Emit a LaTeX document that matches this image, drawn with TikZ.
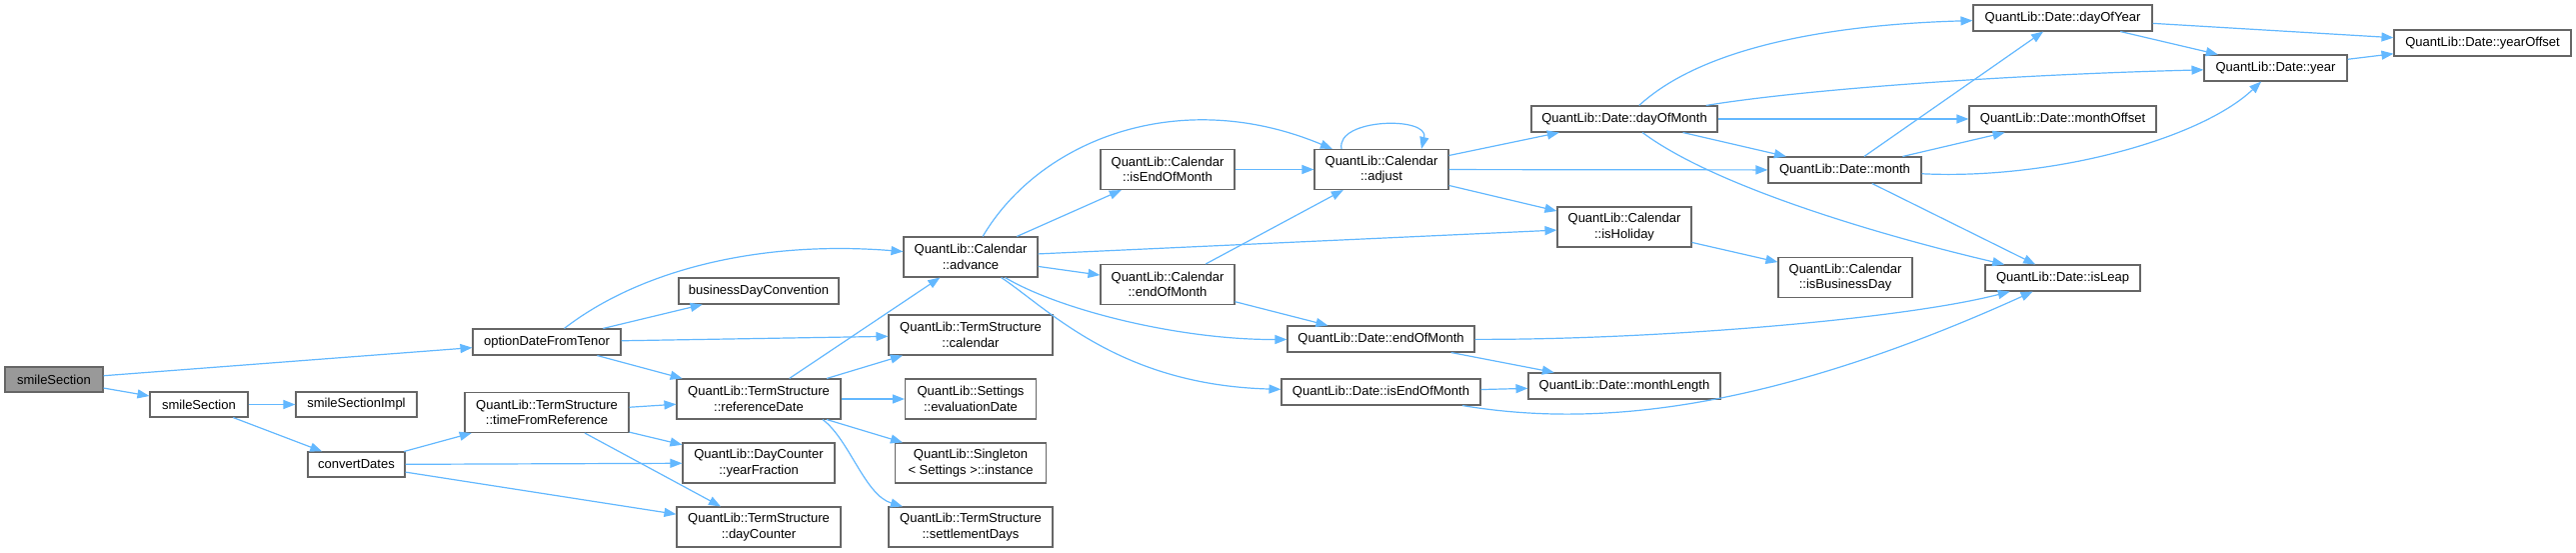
\documentclass[tikz,border=0pt]{standalone}
\usepackage{fontspec}
\setmainfont{Liberation Sans}
\usetikzlibrary{arrows.meta}
\definecolor{edgeblue}{HTML}{63B8FF}
\definecolor{boxline}{HTML}{666666}
\definecolor{rootfill}{HTML}{999999}
\begin{document}
\begin{tikzpicture}[x=1pt,y=-1pt,
  nd/.style={draw=boxline, fill=white, line width=1.1pt, inner sep=1pt, align=center,
     font=\fontsize{13}{15.5}\selectfont},
  one/.style={nd, minimum height=26},
  two/.style={nd, minimum height=40},
  e/.style={draw=edgeblue, line width=1.2pt, -{Triangle[length=12pt,width=9pt]}}]
\useasboundingbox (0,0) rectangle (2577,553);
% nodes
\node[one, fill=rootfill, minimum width=98, minimum height=25] (ss0) at (54,379.5) {smileSection};
\node[one, minimum width=98, minimum height=25] (ss1) at (199,404.5) {smileSection};
\node[one, minimum width=121, minimum height=25] (impl) at (356.5,404.5) {smileSectionImpl};
\node[one, minimum width=97, minimum height=25] (conv) at (356.5,464.5) {convertDates};
\node[one, minimum width=148] (odft) at (547,342) {optionDateFromTenor};
\node[two, minimum width=164] (tfr) at (547,412.5) {QuantLib::TermStructure\\::timeFromReference};
\node[two, minimum width=134] (adv) at (971,257) {QuantLib::Calendar\\::advance};
\node[one, minimum width=160] (bdc) at (759,291) {businessDayConvention};
\node[two, minimum width=164] (tscal) at (971,335) {QuantLib::TermStructure\\::calendar};
\node[two, minimum width=164] (refd) at (759,399) {QuantLib::TermStructure\\::referenceDate};
\node[two, minimum width=131] (evald) at (971,399) {QuantLib::Settings\\::evaluationDate};
\node[two, minimum width=152] (yf) at (759,463) {QuantLib::DayCounter\\::yearFraction};
\node[two, minimum width=151] (single) at (971,463) {QuantLib::Singleton\\< Settings >::instance};
\node[two, minimum width=164] (dcount) at (759,527) {QuantLib::TermStructure\\::dayCounter};
\node[two, minimum width=164] (settle) at (971,527) {QuantLib::TermStructure\\::settlementDays};
\node[two, minimum width=134] (ieom) at (1168,169.5) {QuantLib::Calendar\\::isEndOfMonth};
\node[two, minimum width=134] (adjust) at (1382,169.5) {QuantLib::Calendar\\::adjust};
\node[two, minimum width=134] (ceom) at (1168,284.5) {QuantLib::Calendar\\::endOfMonth};
\node[one, minimum width=186] (dom) at (1625,119) {QuantLib::Date::dayOfMonth};
\node[one, minimum width=187] (dendm) at (1381.5,339) {QuantLib::Date::endOfMonth};
\node[one, minimum width=199] (dieom) at (1381.5,392) {QuantLib::Date::isEndOfMonth};
\node[two, minimum width=134] (hol) at (1625,227) {QuantLib::Calendar\\::isHoliday};
\node[one, minimum width=179] (doy) at (2063.5,18) {QuantLib::Date::dayOfYear};
\node[one, minimum width=177] (yoff) at (2483.5,43) {QuantLib::Date::yearOffset};
\node[one, minimum width=143] (year) at (2276.5,68) {QuantLib::Date::year};
\node[one, minimum width=187] (moff) at (2063.5,119) {QuantLib::Date::monthOffset};
\node[one, minimum width=153] (month) at (1845.5,170) {QuantLib::Date::month};
\node[two, minimum width=134] (isbd) at (1846,277.5) {QuantLib::Calendar\\::isBusinessDay};
\node[one, minimum width=155] (leap) at (2063.5,278) {QuantLib::Date::isLeap};
\node[one, minimum width=192] (mlen) at (1625,386) {QuantLib::Date::monthLength};
% edges
\draw[e] (ss0) -- (odft);
\draw[e] (ss0) -- (ss1);
\draw[e] (ss1) -- (impl);
\draw[e] (ss1) -- (conv);
\draw[e] (conv) -- (tfr);
\draw[e] (conv) -- (yf);
\draw[e] (conv) -- (dcount);
\draw[e] (tfr) -- (refd);
\draw[e] (tfr) -- (yf);
\draw[e] (tfr) -- (dcount);
\draw[e] (odft) .. controls (640,270) and (760,240) .. (adv);
\draw[e] (odft) -- (bdc);
\draw[e] (odft) -- (tscal);
\draw[e] (odft) -- (refd);
\draw[e] (refd) -- (adv);
\draw[e] (refd) -- (tscal);
\draw[e] (refd) -- (evald);
\draw[e] (refd) -- (single);
\draw[e] ([xshift=64]refd.south) .. controls (850,440) and (865,495) .. (settle);
\draw[e] (adv) .. controls (1040,140) and (1180,85) .. (adjust);
\draw[e] (adv) -- (ieom);
\draw[e] (adv) -- (hol);
\draw[e] (adv) -- (ceom);
\draw[e] (adv) .. controls (1060,310) and (1180,340) .. (dendm);
\draw[e] (adv) .. controls (1050,310) and (1120,385) .. (dieom);
\draw[e] (ieom) -- (adjust);
\draw[e] ([xshift=-40]adjust.north) .. controls (1336,118) and (1430,116) .. ([xshift=40]adjust.north);
\draw[e] (adjust) -- (dom);
\draw[e] (adjust) -- (month);
\draw[e] (adjust) -- (hol);
\draw[e] (ceom) -- (adjust);
\draw[e] (ceom) -- (dendm);
\draw[e] (dendm) .. controls (1650,340) and (1900,320) .. (leap);
\draw[e] (dendm) -- (mlen);
\draw[e] (dieom) -- (mlen);
\draw[e] (dieom) .. controls (1580,425) and (1750,420) .. (leap);
\draw[e] (hol) -- (isbd);
\draw[e] (dom) .. controls (1700,50) and (1820,25) .. (doy);
\draw[e] (dom) .. controls (1800,90) and (2000,75) .. (year);
\draw[e] (dom) -- (moff);
\draw[e] (dom) -- (month);
\draw[e] (dom) .. controls (1720,190) and (1900,240) .. (leap);
\draw[e] (month) -- (doy);
\draw[e] (month) -- (moff);
\draw[e] (month) .. controls (2050,180) and (2200,140) .. (year);
\draw[e] (month) -- (leap);
\draw[e] (doy) -- (year);
\draw[e] (doy) -- (yoff);
\draw[e] (year) -- (yoff);
\end{tikzpicture}
\end{document}
